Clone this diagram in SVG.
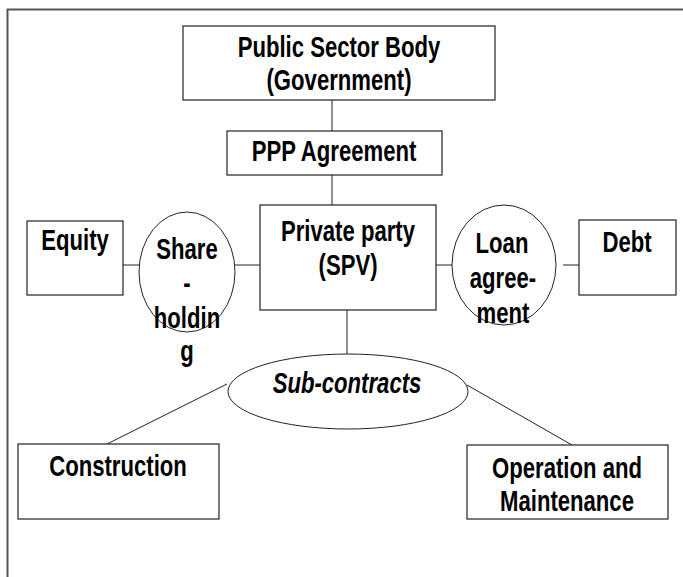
<svg xmlns="http://www.w3.org/2000/svg" width="683" height="577" viewBox="0 0 683 577">
<style>
.box{fill:#fff;stroke:#222;stroke-width:1.2}
.ell{fill:#fff;stroke:#222;stroke-width:1}
.con{stroke:#222;stroke-width:1;fill:none}
.frame{stroke:#555;stroke-width:2;fill:none}
text{font-family:"Liberation Sans",Arial,sans-serif;font-weight:bold;font-size:29.5px;fill:#000;text-anchor:middle}
.it{font-style:italic}
</style>
<rect width="683" height="577" fill="#fff"/>
<path class="frame" d="M7.5,577 V9.5 H683"/>
<g id="connectors">
<line class="con" x1="332" y1="100" x2="332" y2="131"/>
<line class="con" x1="332" y1="175" x2="332" y2="205"/>
<line class="con" x1="123" y1="265" x2="139" y2="265"/>
<line class="con" x1="235" y1="265" x2="260" y2="265"/>
<line class="con" x1="436" y1="265" x2="452" y2="265"/>
<line class="con" x1="563" y1="265" x2="579" y2="265"/>
<line class="con" x1="347" y1="310" x2="347" y2="354"/>
<line class="con" x1="227" y1="384" x2="107" y2="444"/>
<line class="con" x1="467" y1="385" x2="572" y2="445"/>
</g>
<g id="public">
<rect class="box" x="183" y="26" width="312" height="74"/>
<text transform="translate(339,57) scale(0.75,1)">Public Sector Body</text>
<text transform="translate(339,90) scale(0.75,1)">(Government)</text>
</g>
<g id="ppp">
<rect class="box" x="227" y="131" width="215" height="44"/>
<text transform="translate(334,161) scale(0.75,1)">PPP Agreement</text>
</g>
<g id="private">
<rect class="box" x="260" y="205" width="176" height="105"/>
<text transform="translate(348,241) scale(0.75,1)">Private party</text>
<text transform="translate(348,275) scale(0.75,1)">(SPV)</text>
</g>
<g id="equity">
<rect class="box" x="27" y="221" width="96" height="74"/>
<text transform="translate(75,250) scale(0.75,1)">Equity</text>
</g>
<g id="shareholding">
<ellipse class="ell" cx="187" cy="272" rx="48" ry="60"/>
<text transform="translate(187,259) scale(0.75,1)">Share</text>
<text transform="translate(187,293) scale(0.75,1)">-</text>
<text transform="translate(187,328) scale(0.75,1)">holdin</text>
<text transform="translate(187,361) scale(0.75,1)">g</text>
</g>
<g id="loan">
<ellipse class="ell" cx="504" cy="265" rx="52" ry="60"/>
<text transform="translate(502,253) scale(0.75,1)">Loan</text>
<text transform="translate(503,288) scale(0.75,1)">agree-</text>
<text transform="translate(503,323) scale(0.75,1)">ment</text>
</g>
<g id="debt">
<rect class="box" x="579" y="220" width="97" height="75"/>
<text transform="translate(627,252) scale(0.75,1)">Debt</text>
</g>
<g id="subcontracts">
<ellipse class="ell" cx="348" cy="391.5" rx="120" ry="37.5"/>
<text class="it" transform="translate(347,393) scale(0.75,1)">Sub-contracts</text>
</g>
<g id="construction">
<rect class="box" x="18" y="444" width="201" height="75"/>
<text transform="translate(118,476) scale(0.75,1)">Construction</text>
</g>
<g id="operation">
<rect class="box" x="467" y="445" width="201" height="74"/>
<text transform="translate(567,478) scale(0.75,1)">Operation and</text>
<text transform="translate(567,511) scale(0.75,1)">Maintenance</text>
</g>
</svg>
